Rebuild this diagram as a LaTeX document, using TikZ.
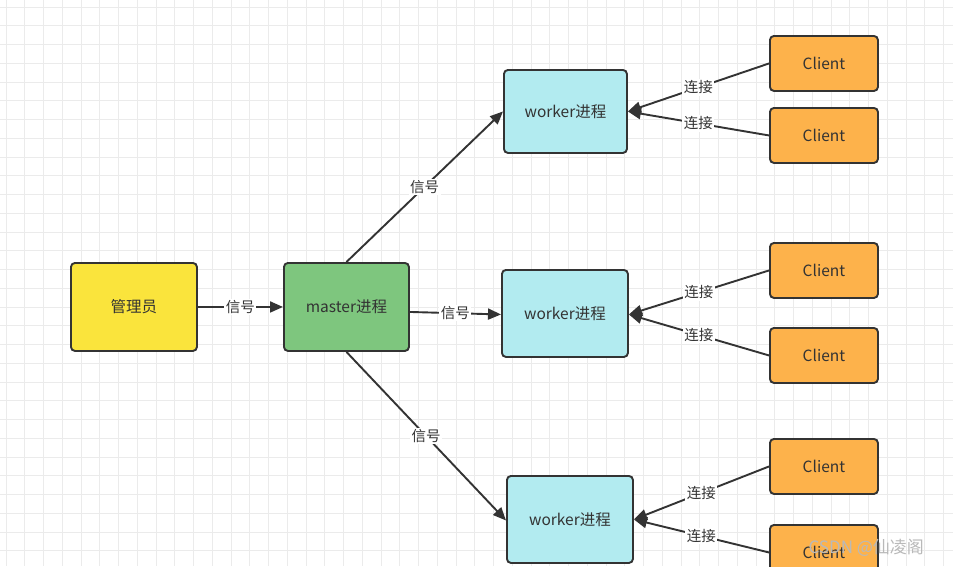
\documentclass[tikz,border=0pt]{standalone}
\usepackage{fontspec}
\setmainfont{Noto Sans CJK SC}
\usetikzlibrary{arrows.meta}
\definecolor{edgec}{HTML}{333333}
\definecolor{txtc}{HTML}{333333}
\definecolor{yel}{HTML}{FAE43C}
\definecolor{grn}{HTML}{7EC67E}
\definecolor{cya}{HTML}{B2EBF0}
\definecolor{org}{HTML}{FDB24B}
\definecolor{gridc}{HTML}{EBEBEB}
\tikzset{
  box/.style={draw=edgec, line width=1.9pt, rounded corners=4pt, anchor=north west, inner sep=0pt, text=txtc, font=\fontsize{15.5}{17}\selectfont},
  conn/.style={draw=edgec, line width=1.9pt, -{Triangle[length=13pt,width=11pt]}},
  lbl/.style={fill=white, inner sep=1.5pt, text=txtc, font=\fontsize{14.5}{16}\selectfont},
}
\begin{document}
\begin{tikzpicture}[x=1pt,y=-1pt]
\useasboundingbox (0,0) rectangle (953,566);
\fill[white] (0,0) rectangle (953,566);
\foreach \i in {0,...,51} {
  \draw[gridc, line width=0.6pt] ({6+18.75*\i},0) -- ({6+18.75*\i},566);
}
\foreach \i in {0,...,30} {
  \draw[gridc, line width=0.6pt] (0,{7+18.75*\i}) -- (953,{7+18.75*\i});
}
% nodes
\node[box, fill=yel, minimum width=126pt, minimum height=88pt] (adm) at (70,262) {管理员};
\node[box, fill=grn, minimum width=125pt, minimum height=88pt] (mst) at (283,262) {master进程};
\node[box, fill=cya, minimum width=123pt, minimum height=83pt] (w1) at (503,69) {worker进程};
\node[box, fill=cya, minimum width=126pt, minimum height=87pt] (w2) at (501,269) {worker进程};
\node[box, fill=cya, minimum width=126pt, minimum height=87pt] (w3) at (506,475) {worker进程};
\node[box, fill=org, minimum width=108pt, minimum height=55pt] (c1) at (769,35) {Client};
\node[box, fill=org, minimum width=108pt, minimum height=55pt] (c2) at (769,107) {Client};
\node[box, fill=org, minimum width=108pt, minimum height=55pt] (c3) at (769,242) {Client};
\node[box, fill=org, minimum width=108pt, minimum height=55pt] (c4) at (769,327) {Client};
\node[box, fill=org, minimum width=108pt, minimum height=55pt] (c5) at (769,438) {Client};
\node[box, fill=org, minimum width=108pt, minimum height=55pt] (c6) at (769,524) {Client};
% connectors
\draw[conn] (adm.east) -- node[lbl]{信号} (mst.west);
\draw[conn] (mst.north) -- node[lbl, pos=0.5]{信号} (w1.west);
\draw[conn] ([yshift=-5pt]mst.east) -- node[lbl]{信号} ([yshift=-1pt]w2.west);
\draw[conn] (mst.south) -- node[lbl, pos=0.5]{信号} ([yshift=-1pt]w3.west);
\draw[conn] (c1.west) -- node[lbl, pos=0.5]{连接} (w1.east);
\draw[conn] (c2.west) -- node[lbl, pos=0.5]{连接} (w1.east);
\draw[conn] (c3.west) -- node[lbl, pos=0.5]{连接} ([yshift=-1pt]w2.east);
\draw[conn] (c4.west) -- node[lbl, pos=0.5]{连接} ([yshift=-1pt]w2.east);
\draw[conn] (c5.west) -- node[lbl, pos=0.5]{连接} (w3.east);
\draw[conn] (c6.west) -- node[lbl, pos=0.5]{连接} (w3.east);
% watermark
\node[text=gray!55, font=\fontsize{17}{19}\selectfont, anchor=west] (wm) at (805,548) {CSDN @仙凌阁};
\end{tikzpicture}
\end{document}
